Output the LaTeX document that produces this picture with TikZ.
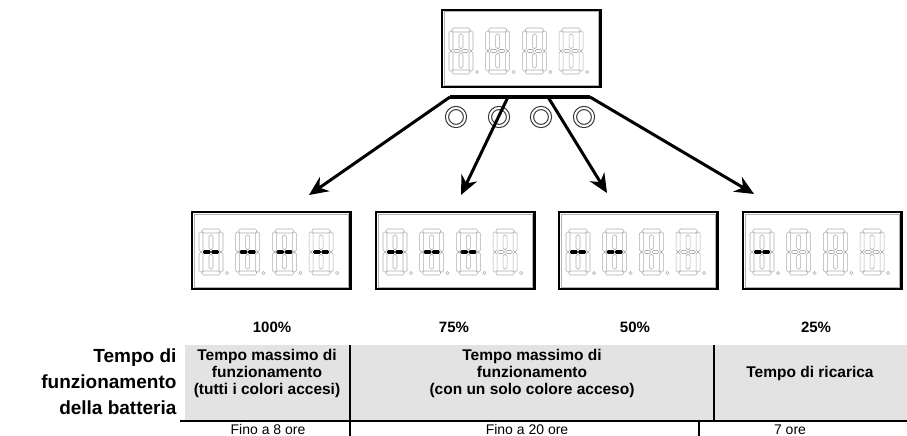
\documentclass[tikz,border=0pt]{standalone}
\usepackage{fontspec}
\setmainfont{Liberation Sans}
\usetikzlibrary{positioning,arrows.meta}

% one 8-segment digit group of a display, first #3 digits show the middle bar
\newcommand\segdigits[3]{%
  \foreach \k in {0,...,3}{%
    \begin{scope}[shift={(#1+\k*36.7,#2)}]
      \foreach \a/\b/\c/\d in {3/0/21/4, 3/42/21/46, 0/3/4/22.5, 0/23.5/4/43,
          20/3/24/22.5, 20/23.5/24/43, 10/6/14/20.5, 10/25.5/14/40,
          4.5/21.5/11.5/24.5, 12.5/21.5/19.5/24.5}
        \draw[seg] (\a,\b) rectangle (\c,\d);
      \draw[seg] (28,44) circle (1.6);
      \ifnum\k<#3
        \fill[litseg] (4,21.2) rectangle (11.7,24.8);
        \fill[litseg] (12.3,21.2) rectangle (20,24.8);
      \fi
    \end{scope}}}

\begin{document}
\begin{tikzpicture}[
  x=1pt, y=-1pt,
  >={Stealth[length=19pt, width=17pt]},
  seg/.style={draw=gray!65, line width=0.55pt, rounded corners=1.5pt},
  litseg/.style={fill=black, rounded corners=1.2pt},
  dispbox/.style={draw=black, line width=1.2pt, minimum width=159pt,
    minimum height=77pt, inner sep=0pt},
  button/.style={circle, draw=gray!40!black, double=white, double distance=2pt,
    line width=1.1pt, minimum size=18pt, inner sep=0pt},
  link/.style={->, line width=3pt},
  pct/.style={font=\fontsize{15}{17}\selectfont\bfseries},
  head/.style={font=\fontsize{15.5}{17}\selectfont\bfseries, align=center},
  cell/.style={font=\fontsize{14}{17}\selectfont, anchor=base},
  rule/.style={line width=1.8pt},
]
  \useasboundingbox (0,0) rectangle (907,436);

  % displays
  \node[dispbox] (disp) at (521.5,48.5) {};
  \node[dispbox] (d100) at (271.5,250.5) {};
  \node[dispbox] (d75)  at (455.5,250.5) {};
  \node[dispbox] (d50)  at (638.5,250.5) {};
  \node[dispbox] (d25)  at (822.5,250.5) {};
  \foreach \n in {disp,d100,d75,d50,d25}{
    \draw[gray!60, line width=0.8pt] ([shift={(2.5,2.5)}]\n.north west)
      rectangle ([shift={(-3,-2.5)}]\n.south east);
    \draw[black, line width=1.5pt] ([shift={(-1.5,0)}]\n.north east)
      -- ([shift={(-1.5,0)}]\n.south east);
  }
  \segdigits{449}{28}{0}
  \segdigits{199}{229}{4}
  \segdigits{383}{229}{3}
  \segdigits{566}{229}{2}
  \segdigits{750}{229}{1}

  % buttons
  \node[button] (k1) at (456,117) {};
  \node[button] (k2) at (499,117) {};
  \node[button] (k3) at (541,117) {};
  \node[button] (k4) at (584,117) {};

  % arrows
  \coordinate (b1) at (450,97);
  \coordinate (b2) at (508,97);
  \coordinate (b3) at (548,97);
  \coordinate (b4) at (590,97);
  \coordinate (t1) at (309,195);
  \coordinate (t2) at (461,195);
  \coordinate (t3) at (607,193);
  \coordinate (t4) at (754,194);
  \draw[line width=3.5pt] (b1) -- (b4);
  \draw[link] (b1) -- (t1);
  \draw[link] (b2) -- (t2);
  \draw[link] (b3) -- (t3);
  \draw[link] (b4) -- (t4);

  % levels
  \node[pct] (p100) at (272,327) {100\%};
  \node[pct] (p75)  at (454,327) {75\%};
  \node[pct] (p50)  at (635,327) {50\%};
  \node[pct] (p25)  at (816,327) {25\%};

  % table
  \fill[gray!22] (185,345) rectangle (907,421);
  \node[font=\fontsize{19}{26}\selectfont\bfseries, align=right, anchor=east]
    (lbl) at (180,382) {Tempo di\\funzionamento\\della batteria};
  \node[head] (h1) at (267,373) {Tempo massimo di\\funzionamento\\(tutti i colori accesi)};
  \node[head] (h2) at (532,373) {Tempo massimo di\\funzionamento\\(con un solo colore acceso)};
  \node[head] (h3) at (810,373) {Tempo di ricarica};
  \node[cell] (c1) at (268,434) {Fino a 8 ore};
  \node[cell] (c2) at (527,434) {Fino a 20 ore};
  \node[cell] (c3) at (790,434) {7 ore};
  \draw[rule] (lbl.east |- 0,421) -- (907,421);
  \draw[rule] (350,345) -- (350,436);
  \draw[rule] (714,345) -- (714,421);
  \draw[rule] (699,421) -- (699,436);
\end{tikzpicture}
\end{document}
